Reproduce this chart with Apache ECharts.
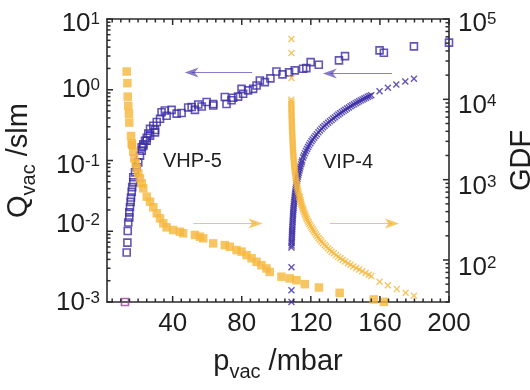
<!DOCTYPE html>
<html><head><meta charset="utf-8">
<script src="https://cdn.jsdelivr.net/npm/echarts@6/dist/echarts.min.js"></script>
<style>html,body{margin:0;padding:0;background:#fff}#c{width:530px;height:390px}</style>
</head><body><div id="c"></div>
<script>
// ---- tick labels ----
const xTicks = [40, 80, 120, 160, 200];
const qTicks = [0.001, 0.01, 0.1, 1, 10];
const gdfTicks = [100, 1000, 10000, 100000];

// ---- VHP-5: Q (left axis, open squares) [p_vac, Q] ----
const vhpQ = [
 [13.4,0.005],[13.8,0.0069],[14.0,0.0101],[14.3,0.0133],[14.9,0.0157],[14.9,0.0185],[15.3,0.022],[15.7,0.026],
 [15.9,0.030],[16.3,0.036],[16.6,0.042],[17.2,0.049],[17.2,0.058],[18.2,0.068],[19.2,0.08],[20.1,0.094],
 [21.1,0.117],[22.1,0.138],[22.1,0.154],[23.0,0.16],[23.0,0.17],[24.0,0.19],[25.0,0.19],[25.0,0.21],
 [25.9,0.24],[26.9,0.225],[26.9,0.28],[28.8,0.31],[29.8,0.25],[29.8,0.27],[30.8,0.35],[32.7,0.39],
 [33.6,0.48],[35.5,0.51],[36.5,0.43],[39.4,0.52],[42.3,0.46],[45.2,0.47],[49.0,0.56],[51.0,0.57],
 [52.9,0.52],[54.8,0.62],[56.8,0.58],[59.7,0.67],[63.5,0.63],[63.5,0.60],[70.2,0.79],[71.2,0.63],
 [74.1,0.71],[75.0,0.77],[77.9,0.80],[79.9,1.03],[80.8,0.88],[83.7,0.98],[86.6,1.03],[88.6,1.15],
 [90.5,1.35],[93.4,1.28],[96.6,1.45],[100.1,1.81],[103.6,1.65],[107.4,1.76],[110.7,1.88],[115.5,1.98],
 [117.4,2.02],[119.9,2.46],[124.6,2.26],[136.3,2.6],[139.8,2.99],[159.8,3.6],[162.3,3.34],[179.7,4.1],[200,4.63]
];
// ---- VHP-5: GDF (right axis, filled squares) [p_vac, GDF] ----
const vhpGDF = [
 [13.4,22200],[13.8,15900],[14.0,10800],[14.3,8300],[14.7,6600],[14.9,5140],[15.9,3500],[16.3,2840],
 [16.6,2710],[17.2,2230],[17.8,1850],[18.6,1600],[19.2,1390],[20.1,1200],[21.1,1040],[22.1,900],
 [23.0,780],[25.0,614],[26.9,532],[28.8,453],[30.8,381],[32.7,330],[34.6,286],[36.5,255],
 [40.3,236],[44.2,225],[46.1,215],[52.9,205],[55.8,195],[57.7,186],[63.5,161],[70.2,153],
 [73.1,146],[77.0,133],[79.9,127],[82.8,115],[85.7,105],[88.6,95],[91.4,86],[94.3,78.5],
 [96.2,71],[103.0,62],[107.8,59],[111.7,56],[116.5,50],[124.7,45.5],[136.7,39],[156.4,32.3],[162.3,30.1]
];
// ---- VIP-4: Q (left axis, crosses) ----
const vipQ = [
 [108.8,0.001],[108.8,0.00147],[108.8,0.0031],
 [108.8,0.0059],[108.85,0.0063],[108.9,0.0068],[108.95,0.0072],[109.0,0.0077],[109.05,0.0083],[109.1,0.0089],
 [109.15,0.0095],[109.2,0.0101],[109.25,0.0108],[109.3,0.0116],[109.35,0.0124],[109.45,0.0133],[109.5,0.0142],
 [109.6,0.0152],[109.65,0.0163],[109.75,0.0174],[109.8,0.0186],[109.9,0.0199],[110.0,0.0213],[110.1,0.0228],
 [110.2,0.0244],[110.35,0.0261],[110.5,0.0279],[110.6,0.0299],[110.75,0.032],[110.9,0.0342],[111.05,0.0366],
 [111.2,0.0392],[111.4,0.0419],[111.6,0.0449],[111.8,0.048],[112.0,0.0514],[112.3,0.055],[112.5,0.0588],
 [112.8,0.0629],[113.1,0.0673],[113.4,0.072],[113.7,0.0771],[114.0,0.0825],[114.4,0.0883],[114.7,0.0945],
 [115.0,0.100],[115.5,0.11],[116.0,0.118],[116.6,0.127],[117.2,0.136],[117.8,0.145],[118.4,0.155],[119.0,0.165],
 [119.7,0.176],[120.4,0.187],[121.1,0.198],[121.9,0.21],[122.7,0.222],[123.5,0.235],[124.4,0.25],[125.3,0.265],
 [126.2,0.28],[127.1,0.295],[128.0,0.31],[129.0,0.326],[130.0,0.342],[131.0,0.358],[132.0,0.375],[133.0,0.392],
 [134.0,0.41],[135.0,0.428],[136.0,0.446],[137.0,0.465],[138.0,0.484],[139.0,0.503],[140.0,0.523],[141.0,0.543],
 [142.0,0.563],[143.0,0.584],[144.0,0.605],[145.0,0.626],[146.0,0.647],[147.0,0.668],[148.0,0.689],[149.0,0.71],
 [150.0,0.731],[151.0,0.752],[152.0,0.773],[153.0,0.794],[154.0,0.815],[155.0,0.835],
 [159.8,0.955],[164.6,1.07],[169.5,1.19],[174.7,1.31],[179.7,1.43]
];
// ---- VIP-4: GDF (right axis, crosses) ----
const vipGDF = [
 [108.8,56400],[108.8,37700],[108.8,18400],
 [108.7,9860],[108.75,9300],[108.7,8800],[108.8,8300],[108.75,7850],[108.8,7400],[108.85,7000],[108.8,6600],
 [108.9,6250],[108.9,5900],[108.95,5550],[109.0,5250],[109.0,4950],[109.05,4700],[109.1,4430],[109.15,4180],
 [109.2,3950],[109.25,3730],[109.3,3520],[109.35,3330],[109.4,3140],[109.45,2970],[109.5,2800],[109.55,2650],
 [109.6,2500],[109.7,2360],[109.75,2230],[109.8,2100],[109.9,1990],[110.0,1880],[110.1,1770],[110.2,1670],
 [110.3,1580],[110.4,1490],[110.5,1410],[110.6,1330],[110.75,1260],[110.9,1190],[111.05,1120],[111.2,1060],
 [111.4,1000],[111.6,945],[111.8,890],[112.0,840],[112.2,795],[112.4,750],[112.7,710],[113.0,670],[113.3,632],
 [113.4,614],[113.6,585],[113.9,557],[114.2,530],[114.4,505],[114.7,481],[115.0,458],[115.4,436],[115.7,415],
 [116.1,395],[116.5,376],[116.9,358],[117.3,341],[117.7,325],[118.2,309],[118.7,294],[119.2,280],[119.8,266],
 [120.4,253],[121.0,241],[121.6,229],[122.3,218],[123.0,207],[123.7,197],[124.5,188],[125.3,179],[126.1,170],
 [127.0,162],[128.0,154],[128.9,147],[129.9,140],[131.0,133],[132.1,127],[133.3,121],[134.6,115],[135.8,110],
 [137.1,105],[138.5,100],[139.9,95.5],[141.5,91],[143.0,87],[144.6,83],[146.3,79.5],[148.0,76],[149.8,72.5],
 [151.7,69],[153.6,65.5],[155.0,63],
 [159.8,53.5],[164.6,48.6],[169.8,43.4],[174.9,39],[179.7,35.8]
];
const lowPoint = [[12.4,0.001]];

// arrows (data coordinates on left axis)
const arrowsBlue = [[[86,1.76],[51,1.76]],[[167,1.7],[131,1.7]]];
const arrowsOrange = [[[52,0.0129],[88,0.0129]],[[131,0.0129],[167,0.0129]]];

const F = '"Liberation Sans", Arial, Helvetica, sans-serif';
const BLUE = '#3b2ca5', ORANGE = '#f6b73c', AX = '#2b2b2b', TXT = '#1e1e1e';

const xMinor = []; for (let v = 5; v < 200; v += 5) if (v % 40) xMinor.push(v);
function logMinor(a, b) { const r = []; for (let d = a; d < b; d++) for (let k = 2; k <= 9; k++) r.push(k * Math.pow(10, d)); return r; }
const qMinor = logMinor(-3, 1);
const gdfMinor = logMinor(1, 5).filter(v => v >= 30);

// label vertical nudges (px) per exponent, as in the reference picture
const leftNudge = { '1': 5, '0': 0, '-1': 5, '-2': -6, '-3': 1 };
const rightNudge = { '5': 5, '4': 6, '3': 7, '2': 8 };
function supLabel(nudge) {
  const rich = {};
  const keys = Object.keys(nudge);
  keys.forEach((k, i) => {
    const o = nudge[k];
    const pad = o >= 0 ? [2 * o, 0, 0, 0] : [0, 0, -2 * o, 0];
    const padE = o >= 0 ? [2 * o, 0, 0, 0] : [0, 0, 0, 0];
    rich['b' + i] = { fontSize: 26, fontFamily: F, color: TXT, padding: pad };
    rich['e' + i] = { fontSize: 17, lineHeight: 14, fontFamily: F, color: TXT, verticalAlign: 'top', padding: padE };
  });
  return {
    rich: rich,
    formatter: v => { const e = String(Math.round(Math.log10(v))); const i = keys.indexOf(e); return '{b' + i + '|10}{e' + i + '|' + e + '}'; }
  };
}

const lineSt = { color: AX, width: 1.6 };
function xAx(pos, show) {
  return {
    type: 'value', min: 2, max: 200, position: pos,
    axisLine: { show: true, onZero: false, lineStyle: lineSt },
    axisTick: { show: false },
    axisLabel: show ? { customValues: xTicks, fontSize: 26, fontFamily: F, color: TXT, margin: 9 } : { show: false },
    splitLine: { show: false }
  };
}
function yAx(pos, min, max, ticks, nudge, margin) {
  const sl = supLabel(nudge);
  return {
    type: 'log', logBase: 10, min: min, max: max, position: pos,
    axisLine: { show: true, onZero: false, lineStyle: lineSt },
    axisTick: { show: false },
    axisLabel: { customValues: ticks, margin: margin, formatter: sl.formatter, rich: sl.rich, fontSize: 26, fontFamily: F, color: TXT },
    splitLine: { show: false }
  };
}

const xCross = 'path://M0,1.4L1.4,0L5,3.6L8.6,0L10,1.4L6.4,5L10,8.6L8.6,10L5,6.4L1.4,10L0,8.6L3.6,5Z';
const headBlue = 'path://M5,0L10,14L5,10L0,14Z';
const headOrange = 'path://M5,0L9.5,14L5,10.5L0.5,14Z';

const titleRich = {
  m: { fontSize: 29, fontFamily: F, color: TXT, verticalAlign: 'top', padding: [0, 0, 6, 0] },
  s: { fontSize: 20, fontFamily: F, color: TXT, verticalAlign: 'bottom' }
};
const xa = [xAx('bottom', true), xAx('top', false)];
Object.assign(xa[0], { name: '{m|p}{s|vac}{m| /mbar}', nameLocation: 'middle', nameGap: 45, nameTextStyle: { rich: titleRich } });

const ya = [
  yAx('left', 0.001, 10, qTicks, leftNudge, 7),
  yAx('right', 30, 100000, gdfTicks, rightNudge, 9)
];
Object.assign(ya[0], { name: '{m|Q}{s|vac}{m| /slm}', nameLocation: 'middle', nameGap: 68, nameRotate: 90, nameTextStyle: { rich: titleRich } });
Object.assign(ya[1], { name: 'GDF', nameLocation: 'middle', nameGap: 58, nameRotate: 90, nameTextStyle: { fontSize: 29, fontFamily: F, color: TXT } });

function arrowLines(list, color, head, w, h, width, opacity) {
  return {
    silent: true, animation: false,
    symbol: ['none', head], symbolSize: 12,
    label: { show: false },
    lineStyle: { color: color, width: width, type: 'solid', opacity: opacity },
    itemStyle: { color: color, opacity: 1 },
    emphasis: { disabled: true },
    data: list.map(s => [{ coord: s[0], symbol: 'none' }, { coord: s[1], symbol: head, symbolSize: [w, h] }])
  };
}

const chart = echarts.init(document.getElementById('c'), null, { renderer: 'canvas' });
chart.setOption({
  animation: false,
  backgroundColor: '#fff',
  grid: { left: 107, right: 81, top: 19, bottom: 88, containLabel: false, outerBoundsMode: 'none' },
  xAxis: xa,
  yAxis: ya,
  series: [
    { type: 'scatter', name: 'VHP-5 Q', xAxisIndex: 0, yAxisIndex: 0, data: vhpQ, clip: false,
      symbol: 'rect', symbolSize: 7, itemStyle: { color: 'rgba(0,0,0,0)', borderColor: BLUE, borderWidth: 1.6 } },
    { type: 'scatter', name: 'low', xAxisIndex: 0, yAxisIndex: 0, data: lowPoint, clip: false,
      symbol: 'rect', symbolSize: 7, itemStyle: { color: 'rgba(0,0,0,0)', borderColor: '#a03c9e', borderWidth: 1.6 } },
    { type: 'scatter', name: 'VIP-4 Q', xAxisIndex: 0, yAxisIndex: 0, data: vipQ, clip: false,
      symbol: xCross, symbolSize: 7, itemStyle: { color: BLUE } },
    { type: 'scatter', name: 'VHP-5 GDF', xAxisIndex: 0, yAxisIndex: 1, data: vhpGDF, clip: false,
      symbol: 'rect', symbolSize: 8.5, itemStyle: { color: ORANGE } },
    { type: 'scatter', name: 'VIP-4 GDF', xAxisIndex: 0, yAxisIndex: 1, data: vipGDF, clip: false,
      symbol: xCross, symbolSize: 7, itemStyle: { color: ORANGE } },
    { type: 'scatter', name: 'arrows', xAxisIndex: 0, yAxisIndex: 0, data: [], silent: true,
      markLine: arrowLines(arrowsBlue, '#4536ad', headBlue, 10, 14, 1.2, 0.65) },
    { type: 'scatter', name: 'arrows2', xAxisIndex: 0, yAxisIndex: 0, data: [], silent: true,
      markLine: arrowLines(arrowsOrange, ORANGE, headOrange, 10, 14, 1.2, 0.8) }
  ]
});

// ticks (inside, mirrored), positioned through the axes' own scales
const X = v => chart.convertToPixel({ xAxisIndex: 0 }, v);
const YL = v => chart.convertToPixel({ yAxisIndex: 0 }, v);
const YR = v => chart.convertToPixel({ yAxisIndex: 1 }, v);
const L = X(2), R = X(200), T = YL(10), B = YL(0.001);
const g = [];
function seg(x1, y1, x2, y2) { g.push({ type: 'line', silent: true, z: 50, shape: { x1, y1, x2, y2 }, style: { stroke: AX, lineWidth: 1.5 } }); }
xTicks.forEach(v => { const p = X(v); seg(p, B, p, B - 6); seg(p, T, p, T + 6); });
xMinor.forEach(v => { const p = X(v); seg(p, B, p, B - 3.5); seg(p, T, p, T + 3.5); });
qTicks.forEach(v => { const p = YL(v); seg(L, p, L + 6, p); });
qMinor.forEach(v => { const p = YL(v); seg(L, p, L + 3.5, p); });
gdfTicks.forEach(v => { const p = YR(v); seg(R, p, R - 6, p); });
gdfMinor.forEach(v => { const p = YR(v); seg(R, p, R - 3.5, p); });
g.push({ type: 'text', left: 163, top: 151, silent: true, style: { text: 'VHP-5', fontSize: 20, fontFamily: F, fill: TXT } });
g.push({ type: 'text', left: 323, top: 152, silent: true, style: { text: 'VIP-4', fontSize: 20, fontFamily: F, fill: TXT } });
chart.setOption({ graphic: g });
</script></body></html>
